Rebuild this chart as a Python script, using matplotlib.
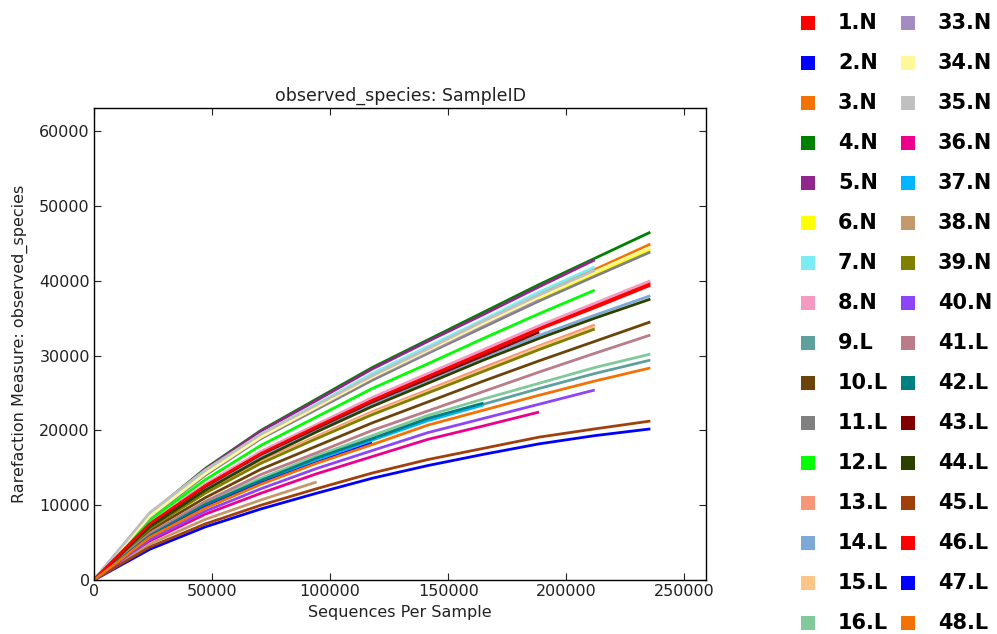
import matplotlib
matplotlib.use("Agg")
import matplotlib.pyplot as plt
from matplotlib.patches import Rectangle
import numpy as np

# rarefaction depths (sequences per sample)
step = 23560
depths = [step * k for k in range(11)]

samples = ["1.N", "2.N", "3.N", "4.N", "5.N", "6.N", "7.N", "8.N",
           "9.L", "10.L", "11.L", "12.L", "13.L", "14.L", "15.L", "16.L",
           "33.N", "34.N", "35.N", "36.N", "37.N", "38.N", "39.N", "40.N",
           "41.L", "42.L", "43.L", "44.L", "45.L", "46.L", "47.L", "48.L"]

colors = ["#FF0000", "#0000FF", "#F27304", "#008000", "#91278D", "#FFFF00", "#7CECF4", "#F49AC2",
          "#5DA09E", "#6B440B", "#808080", "#00FF00", "#F79679", "#7DA9D8", "#FCC688", "#80C99B",
          "#A48BC1", "#FFF899", "#C0C0C0", "#EC008C", "#00B7FF", "#C49A6C", "#808000", "#8E45F8",
          "#BA7C88", "#008080", "#800000", "#2D4000", "#A0410D", "#FF0000", "#0000FF", "#F27304"]

# mean observed species at each depth (shorter lists = sample ran out of reads)
obs_1N = [0, 7500, 12700, 17100, 20600, 24200, 27400, 30600, 33700, 36700, 39700]
obs_2N = [0, 4100, 7100, 9500, 11600, 13600, 15300, 16800, 18200, 19300, 20200]
obs_3N = [0, 8500, 14400, 19300, 23300, 27400, 31000, 34600, 38200, 41500, 44900]
obs_4N = [0, 8800, 14900, 20000, 24200, 28400, 32100, 35800, 39500, 43000, 46500]
obs_5N = [0, 8800, 14800, 19900, 24000, 28200, 31900, 35500, 39200, 42800]
obs_6N = [0, 8400, 14200, 19000, 23000, 27000, 30500, 34100, 37600, 40900, 44250]
obs_7N = [0, 8600, 14500, 19500, 23500, 27600, 31200, 34800, 38500, 41850]
obs_8N = [0, 7600, 12800, 17200, 20800, 24400, 27600, 30800, 34000, 37000, 40000]
obs_9L = [0, 5900, 10000, 13200, 16200, 18800, 21500, 23500, 25600, 27600, 29400]
obs_10L = [0, 6600, 11000, 14800, 17900, 21000, 23800, 26600, 29300, 31900, 34500]
obs_11L = [0, 8300, 14000, 18900, 22800, 26700, 30300, 33800, 37300, 40600, 43850]
obs_12L = [0, 8000, 13400, 18000, 21800, 25600, 28900, 32300, 35600, 38750]
obs_13L = [0, 7000, 11800, 15900, 19200, 22500, 25400, 28400, 31300, 34100]
obs_14L = [0, 7200, 12200, 16500, 20100, 23500, 26700, 29800, 32700, 35400, 38000]
obs_15L = [0, 7000, 11700, 15700, 19000, 22300, 25200, 28100, 31100, 33800]
obs_16L = [0, 6000, 10300, 13600, 16600, 19300, 22000, 24200, 26300, 28400, 30200]
obs_33N = [0, 8400, 14200, 19000, 23000, 27000, 30500, 34100, 37600]
obs_34N = [0, 8500, 14200, 19100, 23100, 27100, 30700, 34300, 37800, 41200, 44500]
obs_35N = [0, 9000, 14700, 19500, 23400, 27300, 30900, 34600, 38100, 41400]
obs_36N = [0, 5200, 8800, 11600, 14200, 16500, 18800, 20600, 22450]
obs_37N = [0, 5800, 10000, 13200, 16100, 18700, 21300, 23400]
obs_38N = [0, 4800, 8100, 10700, 13100]
obs_39N = [0, 6900, 11600, 15600, 18900, 22100, 25000, 27900, 30800, 33550]
obs_40N = [0, 5400, 9200, 12200, 14900, 17300, 19700, 21600, 23500, 25400]
obs_41L = [0, 6200, 10500, 14100, 17000, 20000, 22600, 25200, 27800, 30300, 32750]
obs_42L = [0, 5900, 10100, 13300, 16300, 18900, 21600, 23650]
obs_43L = [0, 7400, 12500, 16800, 20300, 23800, 26900, 30000, 33150]
obs_44L = [0, 7100, 12000, 16200, 19800, 23200, 26300, 29400, 32300, 35000, 37550]
obs_45L = [0, 4400, 7500, 10000, 12200, 14300, 16100, 17600, 19100, 20200, 21250]
obs_46L = [0, 7500, 12600, 16900, 20500, 24000, 27200, 30300, 33500, 36400, 39400]
obs_47L = [0, 5700, 9700, 12900, 15700, 18300]
obs_48L = [0, 5700, 9600, 12800, 15600, 18100, 20700, 22700, 24700, 26600, 28350]

observed = [obs_1N, obs_2N, obs_3N, obs_4N, obs_5N, obs_6N, obs_7N, obs_8N,
            obs_9L, obs_10L, obs_11L, obs_12L, obs_13L, obs_14L, obs_15L, obs_16L,
            obs_33N, obs_34N, obs_35N, obs_36N, obs_37N, obs_38N, obs_39N, obs_40N,
            obs_41L, obs_42L, obs_43L, obs_44L, obs_45L, obs_46L, obs_47L, obs_48L]

plt.rcParams.update({
    "font.family": "DejaVu Sans",
    "xtick.direction": "in",
    "ytick.direction": "in",
    "xtick.top": True,
    "ytick.right": True,
    "xtick.major.size": 5,
    "ytick.major.size": 5,
    "axes.linewidth": 1.0,
})

fig = plt.figure(figsize=(9.97, 6.34), dpi=100)
ax = fig.add_axes([94 / 997, 1 - 580 / 634, 612 / 997, 472 / 634])

for vals, col in zip(observed, colors):
    ax.plot(depths[:len(vals)], vals, color=col, lw=2.0, solid_capstyle="butt")

ax.set_xlim(0, depths[-1] * 1.1)
ax.set_ylim(0, 63100)
ax.set_xticks([0, 50000, 100000, 150000, 200000, 250000])
ax.set_yticks(np.arange(0, 60001, 10000))
ax.tick_params(labelsize=11.5, colors="#222222", pad=3)
ax.set_title("observed_species: SampleID", fontsize=12.5, color="#222222", pad=5)
ax.set_xlabel("Sequences Per Sample", fontsize=11.5, color="#222222", labelpad=4)
ax.set_ylabel("Rarefaction Measure: observed_species", fontsize=11.5, color="#222222", labelpad=8)

# legend as a separate two-column block on the right
leg = fig.add_axes([0, 0, 1, 1])
leg.set_xlim(0, 997)
leg.set_ylim(634, 0)
leg.axis("off")
n_rows = 16
for i, (name, col) in enumerate(zip(samples, colors)):
    c, r = divmod(i, n_rows)
    x0 = 801 + c * 100
    yc = 23 + r * 40
    leg.add_patch(Rectangle((x0, yc - 7), 14, 14, color=col, lw=0))
    leg.text(x0 + 37, yc, name, fontsize=15, fontweight="bold",
             va="center", ha="left", color="black")

fig.savefig("out.png", dpi=100)
